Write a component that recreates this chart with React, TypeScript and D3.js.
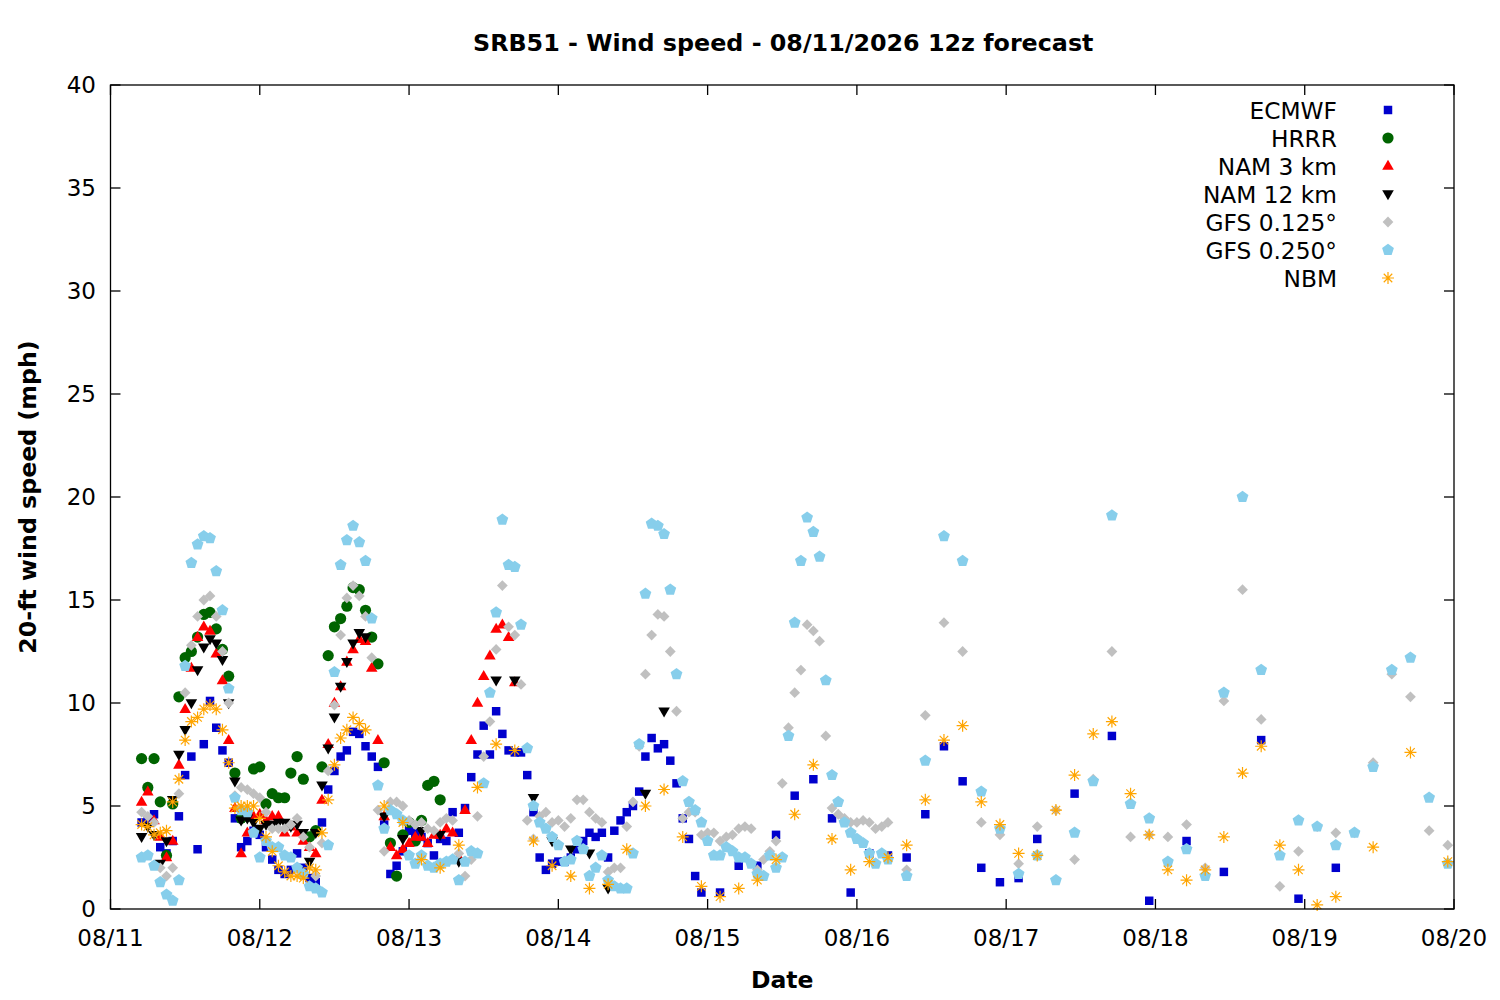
import * as d3 from 'd3';
import React from 'react';

// forecast initialised 08/11 12z, plotted in local time (12z = 05h)
const INIT = Date.UTC(2026, 7, 11, 5);
const START = Date.UTC(2026, 7, 11);
const END = Date.UTC(2026, 7, 20);

// ECMWF: hourly to +90h, 3-hourly to +144h, 6-hourly to +192h
const ecmwfHourly = [
  4.2, 4.3, 4.6, 3.0, 2.7, 3.3, 4.5, 6.5, 7.4, 2.9,
  8.0, 10.1, 8.8, 7.7, 7.1, 4.4, 3.0, 3.3, 3.8, 3.6,
  3.0, 2.4, 1.9, 1.7, 1.9, 2.7, 2.0, 1.5, 1.3, 4.2,
  5.8, 6.7, 7.4, 7.7, 8.6, 8.5, 7.9, 7.4, 6.9, 4.1,
  1.7, 2.1, 2.8, 3.8, 3.7, 3.5, 3.2, 2.6, 3.4, 3.3,
  4.7, 3.7, 4.9, 6.4, 7.5, 8.9, 7.5, 9.6, 8.5, 7.7,
  7.6, 7.6, 6.5, 4.7, 2.5, 1.9, 2.2, 2.3, 2.3, 2.5,
  2.9, 3.3, 3.7, 3.5, 3.7, 2.5, 3.8, 4.3, 4.7, 5.0,
  5.7, 7.4, 8.3, 7.8, 8.0, 7.2, 6.1, 4.4, 3.4, 1.6,
  0.8,
];
const ecmwf3h = [
  0.8, 2.1, 2.1, 3.6, 5.5, 6.3, 4.4, 0.8, 2.7, 2.6,
  2.5, 4.6, 7.9, 6.2, 2.0, 1.3, 1.5, 3.4,
];
const ecmwf6h = [5.6, 8.4, 0.4, 3.3, 1.8, 8.2, 0.5, 2.0];

// HRRR: hourly to +48h
const hrrrHourly = [
  7.3, 5.9, 7.3, 5.2, 2.6, 5.1, 10.3, 12.2, 12.5, 13.2,
  14.3, 14.4, 13.6, 12.6, 11.3, 6.6, 4.4, 4.5, 6.8, 6.9,
  5.1, 5.6, 5.4, 5.4, 6.6, 7.4, 6.3, 3.5, 3.8, 6.9,
  12.3, 13.7, 14.1, 14.7, 15.6, 15.5, 14.5, 13.2, 11.9, 7.1,
  3.2, 1.6, 3.6, 4.2, 3.3, 4.3, 6.0, 6.2, 5.3,
];

// NAM 3 km: hourly to +60h
const nam3Hourly = [
  5.2, 5.7, 4.3, 3.5, 2.5, 3.3, 7.0, 9.7, 11.7, 13.2,
  13.7, 13.5, 12.4, 11.1, 8.2, 4.9, 2.7, 3.7, 4.5, 4.6,
  4.3, 4.5, 4.5, 3.7, 4.0, 3.7, 3.3, 3.0, 2.7, 5.3,
  8.0, 10.0, 10.8, 12.0, 12.6, 13.1, 13.0, 11.7, 8.2, 4.5,
  3.0, 2.6, 2.9, 3.2, 3.5, 3.5, 3.2, 3.6, 3.6, 3.9,
  3.7, 2.5, 4.8, 8.2, 10.0, 11.3, 12.3, 13.6, 13.8, 13.2,
  11.0,
];

// NAM 12 km: hourly to +36h, 3-hourly to +84h
const nam12Hourly = [
  3.5, 4.0, 3.6, 2.2, 3.3, 5.3, 7.5, 8.7, 10.0, 11.6,
  12.7, 13.1, 12.9, 12.1, 10.0, 6.2, 4.3, 4.4, 4.2, 3.9,
  4.1, 4.1, 4.2, 4.2, 4.0, 4.1, 3.7, 2.3, 3.7, 6.0,
  7.8, 9.3, 10.8, 12.0, 12.9, 13.4, 13.2,
];
const nam12_3h = [
  4.5, 3.4, 3.8, 3.6, 2.3, null, 11.1, 11.1, 5.4, 3.3,
  2.9, 2.7, 1.0, null, 5.6, 9.6,
];

// GFS 0.125: hourly to +120h, 3-hourly after
const gfs125Hourly = [
  4.7, 4.5, 4.2, 2.0, 1.6, 2.0, 5.6, 10.5, 12.8, 14.2,
  15.0, 15.2, 14.2, 12.5, 10.0, 5.5, 5.9, 5.8, 5.6, 5.4,
  4.7, 3.9, 3.9, 3.9, 4.1, 4.4, 3.5, 3.0, 1.6, 3.2,
  6.7, 9.9, 13.3, 15.1, 15.7, 15.2, 14.2, 12.2, 4.8, 2.8,
  5.2, 5.2, 5.0, 4.3, 4.1, 4.2, 3.9, 3.8, 4.2, 4.4,
  4.3, 2.7, 1.6, 2.4, 4.5, 7.4, 9.1, 12.6, 15.7, 13.7,
  13.3, 10.9, 4.3, 3.4, 4.5, 4.7, 4.2, 4.3, 4.0, 4.4,
  5.3, 5.3, 4.7, 4.4, 4.2, 1.8, 2.0, 2.0, 4.0, 5.2,
  7.9, 11.4, 13.3, 14.3, 14.2, 12.5, 9.6, 4.4, 4.7, 4.7,
  3.6, 3.7, 3.7, 3.3, 3.5, 3.6, 3.9, 4.0, 3.9, 1.9,
  2.4, 2.8, 3.3, 6.1, 8.8, 10.5, 11.6, 13.8, 13.5, 13.0,
  8.4, 4.9, 4.6, 4.4, 4.2, 4.2, 4.3, 4.2, 3.9, 4.0,
  4.2,
];
const gfs125_3h = [
  1.9, 9.4, 13.9, 12.5, 4.2, 3.6, 2.2, 4.0, 4.8, 2.4,
  6.3, 12.5, 3.5, 3.6, 3.5, 4.1, 2.0, 10.1, 15.5, 9.2,
  1.1, 2.8, 4.0, 3.7, 3.7, 7.1, 11.4, 10.3, 3.8, 3.1,
];

// GFS 0.250: hourly to +120h, 3-hourly after
const gfs250Hourly = [
  2.5, 2.6, 2.1, 1.3, 0.7, 0.4, 1.4, 11.8, 16.8, 17.7,
  18.1, 18.0, 16.4, 14.5, 10.7, 5.4, 4.8, 4.7, 3.7, 2.5,
  3.3, 3.0, 3.0, 2.6, 2.5, 2.0, 1.7, 1.1, 1.0, 0.8,
  3.1, 11.5, 16.7, 17.9, 18.6, 17.8, 16.9, 14.1, 6.0, 3.9,
  4.8, 4.6, 4.3, 2.6, 2.2, 2.6, 2.1, 2.0, 2.2, 2.3,
  2.4, 1.4, 2.3, 2.8, 2.7, 6.1, 10.5, 14.4, 18.9, 16.7,
  16.6, 13.8, 7.8, 5.0, 4.2, 3.9, 3.5, 3.1, 2.3, 2.4,
  3.3, 2.9, 1.6, 2.0, 2.6, 1.4, 1.1, 1.0, 1.0, 2.7,
  8.0, 15.3, 18.7, 18.6, 18.2, 15.5, 11.4, 6.2, 5.2, 4.8,
  4.2, 3.3, 2.6, 2.6, 3.0, 2.8, 2.5, 2.5, 2.2, 1.7,
  1.6, 2.6, 2.0, 2.5, 8.4, 13.9, 16.9, 19.0, 18.3, 17.1,
  11.1, 6.5, 5.2, 4.2, 3.7, 3.4, 3.2, 2.7, 2.2, 2.7,
  2.4,
];
const gfs250_3h = [
  1.6, 7.2, 18.1, 16.9, 5.7, 3.9, 1.7, 2.6, 1.4, 3.7,
  6.2, 19.1, 5.1, 4.4, 2.3, 2.9, 1.6, 10.5, 20.0, 11.6,
  2.6, 4.3, 4.0, 3.1, 3.7, 6.9, 11.6, 12.2, 5.4, 2.2,
];

// NBM: hourly to +36h, 3-hourly to +192h, 6-hourly after
const nbmHourly = [
  4.1, 4.0, 3.6, 3.7, 3.8, 5.2, 6.3, 8.2, 9.1, 9.3,
  9.7, 9.9, 9.7, 8.7, 7.1, 4.9, 5.0, 5.0, 5.0, 4.4,
  3.5, 2.8, 2.1, 1.8, 1.6, 1.6, 1.5, 2.0, 1.9, 3.7,
  5.3, 7.0, 8.3, 8.7, 9.3, 9.0, 8.7,
];
const nbm3h = [
  5.0, 4.2, 2.4, 2.0, 3.1, 5.9, 8.0, 7.7, 3.3, 2.1,
  1.6, 1.0, 1.2, 2.9, 5.0, 5.8, 3.5, 1.1, 0.6, 1.0,
  1.4, 2.4, 4.6, 7.0, 3.4, 1.9, 2.3, 2.5, 3.1, 5.3,
  8.2, 8.9, 5.2, 4.1, 2.7, 2.6, 4.8, 6.5, 8.5, 9.1,
  5.6, 3.6, 1.9, 1.4, 1.9, 3.5, 6.6, 7.9, 3.1, 1.9,
  0.2, 0.6,
];
const nbm6h = [3.0, 7.6, 2.3];

const yTicks = [0, 5, 10, 15, 20, 25, 30, 35, 40];

type Seg = { from: number; step: number; values: (number | null)[] };
type Marker = 'square' | 'circle' | 'triUp' | 'triDown' | 'diamond' | 'pentagon' | 'star';
interface Series { name: string; color: string; marker: Marker; segs: Seg[] }

const seg = (from: number, step: number, values: (number | null)[]): Seg => ({ from, step, values });

const series: Series[] = [
  { name: 'ECMWF', color: '#0000cd', marker: 'square', segs: [seg(0, 1, ecmwfHourly), seg(93, 3, ecmwf3h), seg(150, 6, ecmwf6h)] },
  { name: 'HRRR', color: '#006400', marker: 'circle', segs: [seg(0, 1, hrrrHourly)] },
  { name: 'NAM 3 km', color: '#ff0000', marker: 'triUp', segs: [seg(0, 1, nam3Hourly)] },
  { name: 'NAM 12 km', color: '#000000', marker: 'triDown', segs: [seg(0, 1, nam12Hourly), seg(39, 3, nam12_3h)] },
  { name: 'GFS 0.125°', color: '#c0c0c0', marker: 'diamond', segs: [seg(0, 1, gfs125Hourly), seg(123, 3, gfs125_3h)] },
  { name: 'GFS 0.250°', color: '#87ceeb', marker: 'pentagon', segs: [seg(0, 1, gfs250Hourly), seg(123, 3, gfs250_3h)] },
  { name: 'NBM', color: '#ffa500', marker: 'star', segs: [seg(0, 1, nbmHourly), seg(39, 3, nbm3h), seg(198, 6, nbm6h)] },
];

const W = 1500;
const H = 1000;
const L = 110.5;
const R = 1454;
const T = 85;
const B = 909;
const FONT = 'DejaVu Sans, sans-serif';

const x = d3.scaleUtc().domain([new Date(START), new Date(END)]).range([L, R]);
const y = d3.scaleLinear().domain([0, 40]).range([B, T]);
const fmt = d3.utcFormat('%m/%d');

const pentagon = (r: number) => {
  const pts = d3.range(5).map((k) => {
    const a = -Math.PI / 2 + (k * 2 * Math.PI) / 5;
    return [r * Math.cos(a), r * Math.sin(a)];
  });
  return 'M' + pts.map((p) => p.join(',')).join('L') + 'Z';
};

const MarkerShape: React.FC<{ kind: Marker; color: string; cx: number; cy: number }> = ({ kind, color, cx, cy }) => {
  const tr = `translate(${cx},${cy})`;
  switch (kind) {
    case 'square':
      return <path transform={tr} d={d3.symbol(d3.symbolSquare, 72)()!} fill={color} />;
    case 'circle':
      return <circle cx={cx} cy={cy} r={5.6} fill={color} />;
    case 'triUp':
      return <path transform={`${tr} translate(0,0.5)`} d={d3.symbol(d3.symbolTriangle, 58)()!} fill={color} />;
    case 'triDown':
      return <path transform={`${tr} rotate(180) translate(0,0.5)`} d={d3.symbol(d3.symbolTriangle, 58)()!} fill={color} />;
    case 'diamond':
      return <path transform={`${tr} rotate(45)`} d={d3.symbol(d3.symbolSquare, 58)()!} fill={color} />;
    case 'pentagon':
      return <path transform={tr} d={pentagon(6.2)} fill={color} />;
    case 'star': {
      const r = 6;
      const d = r * Math.SQRT1_2;
      return (
        <path
          transform={tr}
          d={`M${-r},0L${r},0M0,${-r}L0,${r}M${-d},${-d}L${d},${d}M${-d},${d}L${d},${-d}`}
          stroke={color}
          strokeWidth={1.2}
          fill="none"
        />
      );
    }
  }
  return null;
};

const App: React.FC = () => {
  const days = d3.utcDay.range(new Date(START), new Date(END + 1));
  return (
    <svg width={W} height={H} style={{ position: 'absolute', left: 0, top: 0, background: '#fff' }} fontFamily={FONT}>
      <rect width={W} height={H} fill="#fff" />

      <text x={(L + R) / 2 + 1} y={51} textAnchor="middle" fontWeight="bold" fontSize={23.8}>
        SRB51 - Wind speed - 08/11/2026 12z forecast
      </text>

      {/* points, drawn in legend order so later models sit on top */}
      <g>
        {series.map((s) =>
          s.segs.flatMap((sg, si) =>
            sg.values.map((v, i) => {
              if (v == null) return null;
              const t = new Date(INIT + (sg.from + i * sg.step) * 3600e3);
              return <MarkerShape key={`${s.name}-${si}-${i}`} kind={s.marker} color={s.color} cx={x(t)} cy={y(v)} />;
            })
          )
        )}
      </g>

      {/* frame and ticks */}
      <rect x={L} y={T} width={R - L} height={B - T} fill="none" stroke="#000" strokeWidth={1.3} />
      {yTicks.map((v) => (
        <g key={v}>
          <line x1={L} x2={L + 10} y1={y(v)} y2={y(v)} stroke="#000" strokeWidth={1.3} />
          <line x1={R} x2={R - 10} y1={y(v)} y2={y(v)} stroke="#000" strokeWidth={1.3} />
          <text x={96} y={y(v) + 8} textAnchor="end" fontSize={23}>
            {v}
          </text>
        </g>
      ))}
      {days.map((d) => (
        <g key={+d}>
          <line x1={x(d)} x2={x(d)} y1={B} y2={B - 10} stroke="#000" strokeWidth={1.3} />
          <line x1={x(d)} x2={x(d)} y1={T} y2={T + 10} stroke="#000" strokeWidth={1.3} />
          <text x={x(d)} y={946} textAnchor="middle" fontSize={23}>
            {fmt(d)}
          </text>
        </g>
      ))}

      <text x={(L + R) / 2} y={988} textAnchor="middle" fontWeight="bold" fontSize={23.5}>
        Date
      </text>
      <text transform={`translate(36,${(T + B) / 2}) rotate(-90)`} textAnchor="middle" fontWeight="bold" fontSize={23.7}>
        20-ft wind speed (mph)
      </text>

      {/* legend */}
      {series.map((s, i) => {
        const ly = 110 + i * 28;
        return (
          <g key={s.name}>
            <text x={1337} y={ly + 8.5} textAnchor="end" fontSize={23.3}>
              {s.name}
            </text>
            <MarkerShape kind={s.marker} color={s.color} cx={1388} cy={ly} />
          </g>
        );
      })}
    </svg>
  );
};

export default App;
